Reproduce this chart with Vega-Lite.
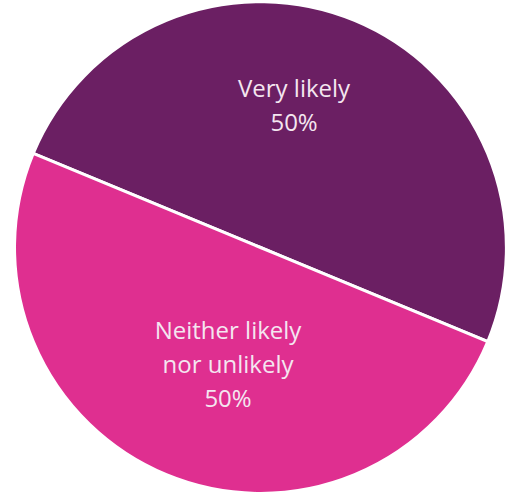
{
  "$schema": "https://vega.github.io/schema/vega-lite/v6.json",
  "width": 521,
  "height": 495,
  "autosize": {"type": "fit", "contains": "padding"},
  "padding": 0,
  "background": "white",
  "view": {"stroke": null},
  "data": {"values": [
    {"category": "Very likely", "label": "Very likely\n50%", "value": 50, "rank": 1},
    {"category": "Neither likely nor unlikely", "label": "Neither likely\nnor unlikely\n50%", "value": 50, "rank": 2}
  ]},
  "transform": [
    {"stack": "value", "groupby": [], "sort": [{"field": "rank", "order": "ascending"}], "as": ["s0", "s1"]}
  ],
  "encoding": {
    "theta": {"field": "s0", "type": "quantitative", "scale": {"domain": [0, 100], "range": [-1.178, 5.105]}},
    "theta2": {"field": "s1"}
  },
  "layer": [
    {
      "mark": {"type": "arc", "outerRadius": 246, "stroke": "white", "strokeWidth": 3},
      "encoding": {
        "color": {"field": "category", "type": "nominal", "legend": null,
          "scale": {"domain": ["Very likely", "Neither likely nor unlikely"], "range": ["#6b1f63", "#df2f90"]}}
      }
    },
    {
      "transform": [{"filter": "datum.rank == 1"}],
      "mark": {"type": "text", "radius": 161, "thetaOffset": 1.388, "lineBreak": "\n", "lineHeight": 34, "font": "Open Sans", "fontSize": 24, "color": "#f4e6f0", "align": "center", "baseline": "middle"},
      "encoding": {"text": {"field": "label"}}
    },
    {
      "transform": [{"filter": "datum.rank == 2"}],
      "mark": {"type": "text", "radius": 90.5, "thetaOffset": 1.545, "lineBreak": "\n", "lineHeight": 34, "font": "Open Sans", "fontSize": 24, "color": "#f4e6f0", "align": "center", "baseline": "middle"},
      "encoding": {"text": {"field": "label"}}
    }
  ]
}
